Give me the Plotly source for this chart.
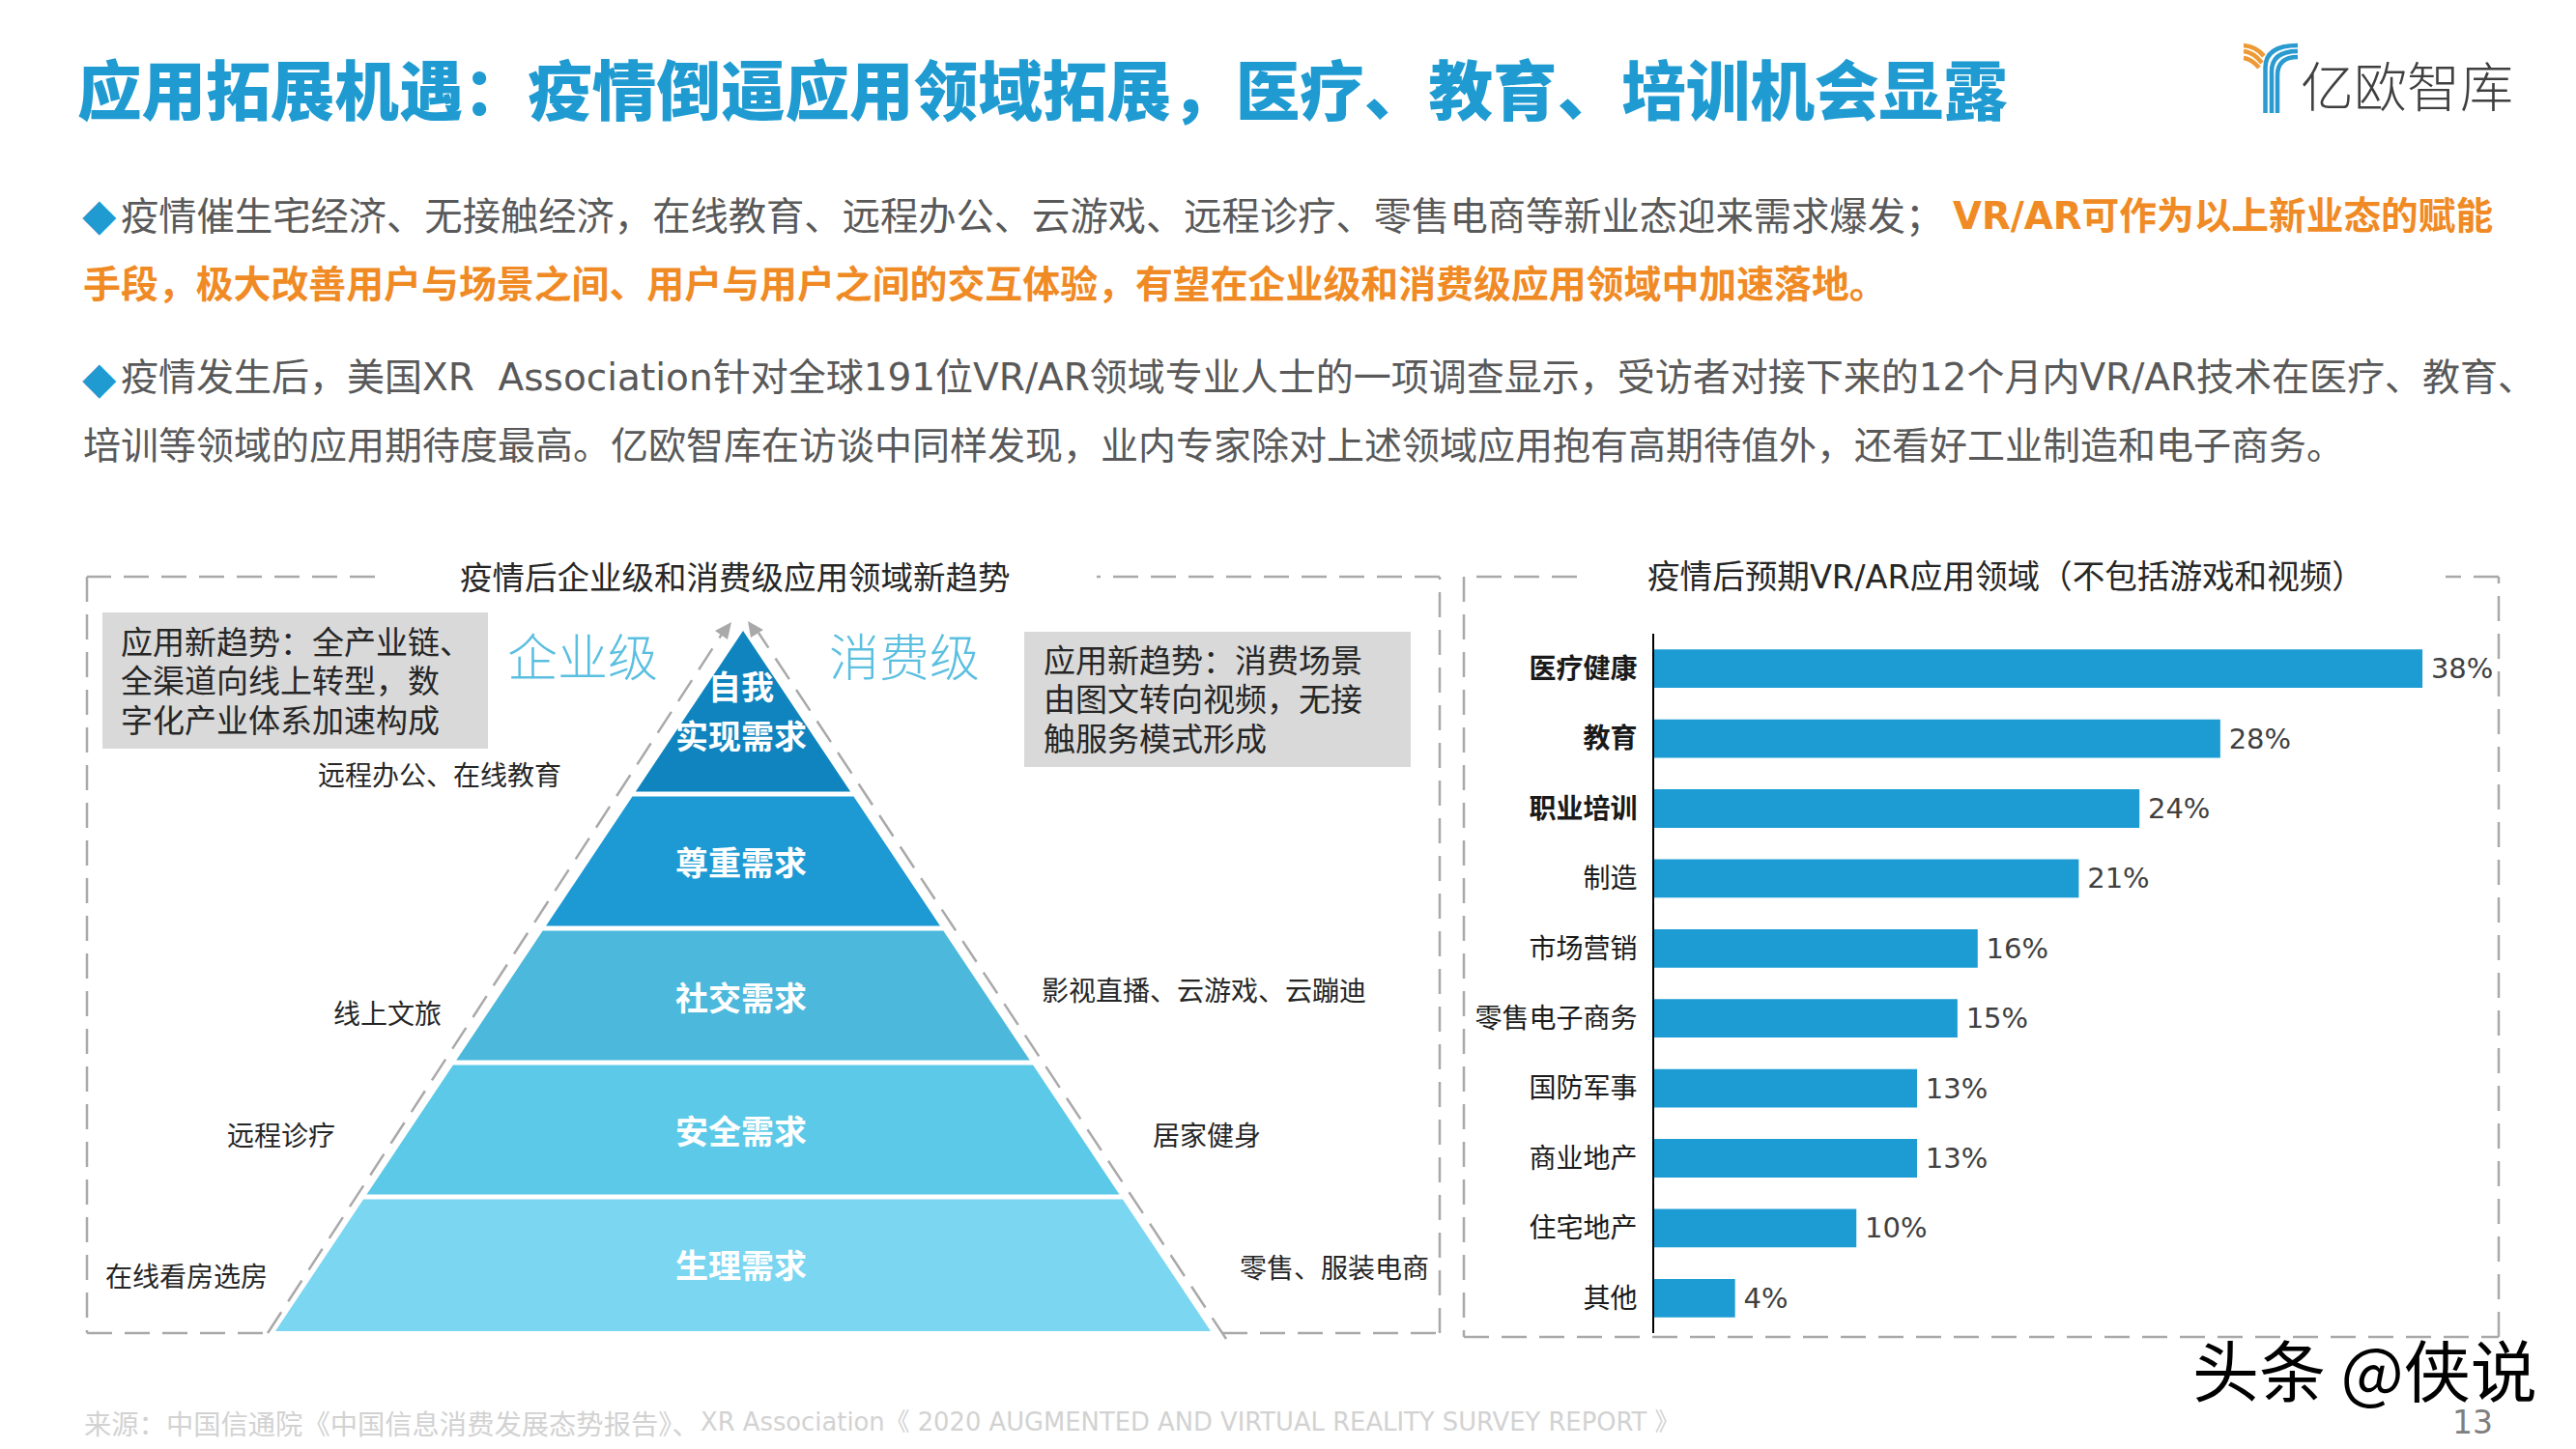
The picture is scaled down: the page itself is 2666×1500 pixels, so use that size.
import plotly.graph_objects as go

W, H = 2666, 1500

# ---------- data ----------
categories = ["医疗健康", "教育", "职业培训", "制造", "市场营销", "零售电子商务", "国防军事", "商业地产", "住宅地产", "其他"]
values = [38, 28, 24, 21, 16, 15, 13, 13, 10, 4]
bold_categories = ["医疗健康", "教育", "职业培训"]

levels = ["生理需求", "安全需求", "社交需求", "尊重需求", "自我实现需求"]
level_bounds = [0, 1, 2, 3, 4, 5.216]
level_colors = ["#7AD6F1", "#5CC9E8", "#4BB8DC", "#1D9AD3", "#0F84BE"]

TITLE = "应用拓展机遇：疫情倒逼应用领域拓展，医疗、教育、培训机会显露"
LINE1A = "疫情催生宅经济、无接触经济，在线教育、远程办公、云游戏、远程诊疗、零售电商等新业态迎来需求爆发；"
LINE1B = "VR/AR可作为以上新业态的赋能"
LINE2 = "手段，极大改善用户与场景之间、用户与用户之间的交互体验，有望在企业级和消费级应用领域中加速落地。"
LINE3 = "疫情发生后，美国XR\u00a0\u00a0Association针对全球191位VR/AR领域专业人士的一项调查显示，受访者对接下来的12个月内VR/AR技术在医疗、教育、"
LINE4 = "培训等领域的应用期待度最高。亿欧智库在访谈中同样发现，业内专家除对上述领域应用抱有高期待值外，还看好工业制造和电子商务。"
SOURCE_A = "来源：中国信通院《中国信息消费发展态势报告》、"
SOURCE_B = "XR Association《 2020 AUGMENTED AND VIRTUAL REALITY SURVEY REPORT 》"

FONT = "DejaVu Sans, Noto Sans CJK SC, sans-serif"
CJK = "Noto Sans CJK SC, sans-serif"
BLUE = "#1F9BD2"
ORANGE = "#F08A24"
GREY = "#595959"
DASH = "#A9A9A9"
DASHSTYLE = "26px,13px"


def px(x):
    return x / W


def py(y):
    return 1 - y / H


fig = go.Figure()

# ---------- pyramid, in its own hidden axes (height in level units, width -1..1) ----------
apex = level_bounds[-1]
gap = 0.036
for i, name in enumerate(levels):
    lo = level_bounds[i] + (gap / 2 if i else 0)
    hi = level_bounds[i + 1] - (gap / 2 if i < len(levels) - 1 else 0)
    wl = 1 - lo / apex
    wh = 1 - hi / apex
    fig.add_trace(go.Scatter(
        x=[-wl, wl, wh, -wh, -wl], y=[lo, lo, hi, hi, lo],
        xaxis="x2", yaxis="y2", mode="lines", fill="toself",
        fillcolor=level_colors[i], line=dict(width=0), name=name,
        hoverinfo="name", showlegend=False,
    ))

# ---------- bars ----------
fig.add_trace(go.Bar(
    x=values, y=categories, orientation="h",
    marker=dict(color="#1C9CD3", line=dict(width=0)),
    text=[f"\u2009{v}%" for v in values], textposition="outside",
    textfont=dict(family="DejaVu Sans", size=29, color="#404040"),
    cliponaxis=False, width=0.55, showlegend=False,
))

layout_annotations = []


def note(text, x, y, size, color="#262626", anchor="left", weight=None, family=CJK):
    font = dict(family=family, size=size, color=color)
    if weight:
        font["weight"] = weight
    layout_annotations.append(dict(
        text=text, xref="paper", yref="paper", x=px(x), y=py(y), showarrow=False,
        xanchor=anchor, yanchor="middle", font=font, borderpad=0,
    ))


# header and body
note(TITLE, 79, 90, 66.6, BLUE, weight=900)
note("◆", 84, 222, 46, BLUE, family="DejaVu Sans")
note(LINE1A, 124, 220, 39.3, GREY)
note(LINE1B, 2020, 223, 38.7, ORANGE, weight=700, family=FONT)
note(LINE2, 85, 291, 38.9, ORANGE, weight=700)
note("◆", 84, 391, 46, BLUE, family="DejaVu Sans")
note(LINE3, 124, 391, 39, GREY, family=FONT)
note(LINE4, 85, 458, 39, GREY)

# logo text
note("亿欧智库", 2380, 86, 55, "#404040", weight=300)

# panel titles
note("疫情后企业级和消费级应用领域新趋势", 761, 595, 33.5, anchor="center")
note("疫情后预期VR/AR应用领域（不包括游戏和视频）", 2076, 597, 33.6, anchor="center", family=FONT)

# grey boxes
for i, t in enumerate(["应用新趋势：全产业链、", "全渠道向线上转型，数", "字化产业体系加速构成"]):
    note(t, 124, 663 + i * 40.3, 33)
for i, t in enumerate(["应用新趋势：消费场景", "由图文转向视频，无接", "触服务模式形成"]):
    note(t, 1079, 682 + i * 40.3, 33)

note("企业级", 603, 678, 52, "#5BBFE0", anchor="center", weight=300)
note("消费级", 936, 678, 52, "#5BBFE0", anchor="center", weight=300)

# pyramid labels
for t, y in [("自我", 709), ("实现需求", 760), ("尊重需求", 891), ("社交需求", 1031), ("安全需求", 1169), ("生理需求", 1308)]:
    note(t, 767, y, 34, "#FFFFFF", anchor="center", weight=700)

# side labels
for t, x, y in [("远程办公、在线教育", 328, 801), ("线上文旅", 344, 1048), ("远程诊疗", 234, 1174),
                ("在线看房选房", 108, 1320), ("影视直播、云游戏、云蹦迪", 1077, 1024),
                ("居家健身", 1192, 1174), ("零售、服装电商", 1282, 1311)]:
    note(t, x, y, 28)

# footer
note(SOURCE_A, 86, 1472, 28.3, "#D2D2D2")
note(SOURCE_B, 724, 1472, 25.8, "#D2D2D2", family=FONT)
note("头条 @侠说", 2268, 1416, 69, "#000000")
note("13", 2559, 1472, 33, "#7F7F7F", anchor="center", family="DejaVu Sans")

# ---------- shapes ----------
shapes = []


def add_line(x0, y0, x1, y1):
    shapes.append(dict(type="line", xref="paper", yref="paper",
                       x0=px(x0), y0=py(y0), x1=px(x1), y1=py(y1),
                       line=dict(color=DASH, width=2.5, dash=DASHSTYLE), layer="above"))


def add_path(points, fill):
    d = "M" + " L".join(f"{px(a):.5f},{py(b):.5f}" for a, b in points) + " Z"
    shapes.append(dict(type="path", xref="paper", yref="paper", path=d,
                       fillcolor=fill, line=dict(width=0), layer="above"))


# grey boxes
for x0, y0, x1, y1 in [(106, 634, 505, 775), (1060, 654, 1460, 794)]:
    shapes.append(dict(type="rect", xref="paper", yref="paper", x0=px(x0), y0=py(y0), x1=px(x1), y1=py(y1),
                       fillcolor="#D9D9D9", line=dict(width=0), layer="below"))

# left frame
add_line(388, 597, 90, 597)
add_line(90, 597, 90, 1380)
add_line(90, 1380, 280, 1380)
add_line(1265, 1380, 1490, 1380)
add_line(1490, 1380, 1490, 597)
add_line(1490, 597, 1135, 597)
# right frame
add_line(1632, 597, 1515, 597)
add_line(1515, 597, 1515, 1384)
add_line(1515, 1384, 2586, 1384)
add_line(2586, 1384, 2586, 597)
add_line(2586, 597, 2531, 597)
# pyramid sides with arrowheads
add_line(277, 1380, 748, 655)
add_line(1269, 1386, 785, 655)
add_path([(757, 644), (740, 653), (753, 662)], "#A9A9A9")
add_path([(774, 643), (790, 652), (777, 660)], "#A9A9A9")

# logo mark


def curve(points, color):
    (x0, y0), (x1, y1), (x2, y2) = points
    d = f"M{px(x0):.5f},{py(y0):.5f} Q{px(x1):.5f},{py(y1):.5f} {px(x2):.5f},{py(y2):.5f}"
    shapes.append(dict(type="path", xref="paper", yref="paper", path=d,
                       line=dict(color=color, width=4.5), layer="above"))


for (a, b, c) in [((2322, 47), (2335, 48), (2343, 58)), ((2322, 53), (2332, 54), (2341, 65)), ((2322, 60), (2330, 61), (2338, 70))]:
    curve((a, b, c), "#EE9A34")
for sx, top, ey in [(2344.5, 70, 47), (2351, 74, 53), (2357, 78, 59)]:
    shapes.append(dict(type="path", xref="paper", yref="paper",
                       path=f"M{px(sx):.5f},{py(117):.5f} L{px(sx):.5f},{py(top):.5f} Q{px(sx):.5f},{py(ey):.5f} {px(2378):.5f},{py(ey):.5f}",
                       line=dict(color="#2A9AD0", width=4.5), layer="above"))

fig.update_layout(
    width=W, height=H, margin=dict(l=0, r=0, t=0, b=0),
    paper_bgcolor="#FFFFFF", plot_bgcolor="rgba(0,0,0,0)",
    font=dict(family=CJK),
    annotations=layout_annotations, shapes=shapes, showlegend=False,
    xaxis=dict(domain=[px(1712), px(2590.8)], range=[0, 42], visible=False, fixedrange=True),
    yaxis=dict(domain=[py(1380), py(656)], categoryorder="array",
               categoryarray=categories[::-1], tickmode="array",
               tickvals=categories,
               ticktext=[f"<b>{c}</b>" if c in bold_categories else c for c in categories],
               tickfont=dict(family=CJK, size=28, color="#1A1A1A"),
               ticks="outside", ticklen=10, tickcolor="rgba(0,0,0,0)",
               showline=True, linecolor="#000000", linewidth=2, showgrid=False, zeroline=False),
    xaxis2=dict(domain=[px(285), px(1253)], range=[-1, 1], visible=False, anchor="y2"),
    yaxis2=dict(domain=[py(1378), py(653)], range=[0, apex], visible=False, anchor="x2"),
)

fig.write_html("out.html", config={"displayModeBar": False},
               post_script="document.body.style.margin='0';document.body.style.overflow='hidden';")
